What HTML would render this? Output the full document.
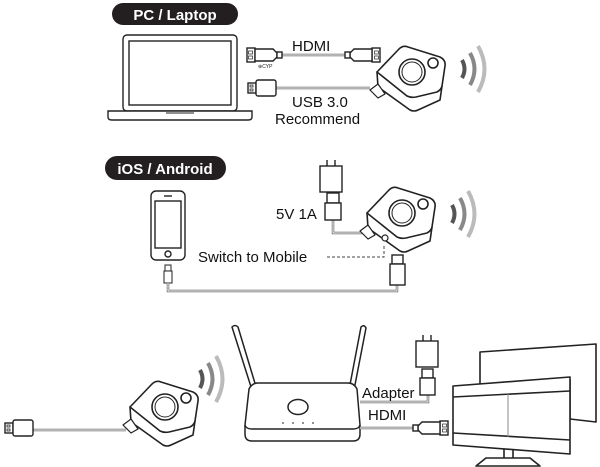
<!DOCTYPE html>
<html><head><meta charset="utf-8"><style>
html,body{margin:0;padding:0;background:#fff}
svg{display:block}
text{font-family:"Liberation Sans",sans-serif}
</style></head><body>
<svg width="600" height="467" viewBox="0 0 600 467" xmlns="http://www.w3.org/2000/svg">
<defs>
<g id="dongle" fill="#fff" stroke="#222" stroke-width="1.6" stroke-linejoin="round">
  <path d="M377,72 L378,87 L410,110 Q414,112 418,110 L440,100 L442,86 Z"/>
  <path d="M377,72 L399,49 Q403,45 408,47 L440,57 Q446,60 445,66 L442,86 Q441,90 437,92 L416,97 Q411,98 407,96 Z"/>
  <circle cx="412" cy="72" r="13"/>
  <circle cx="412" cy="72" r="10" stroke-width="1"/>
  <circle cx="433" cy="63" r="5"/>
  <path d="M370,90 L378,84 L385,94 L378,98 Z" stroke-width="1.2"/>
</g>
<g id="wifi" fill="none" stroke-linecap="butt">
  <path d="M462,60 Q467,69 462,78" stroke="#555" stroke-width="4"/>
  <path d="M470,53 Q479,69 470,85" stroke="#888" stroke-width="4"/>
  <path d="M478,46 Q491,69 478,92" stroke="#bbb" stroke-width="4"/>
</g>
<g id="usbplug" fill="#fff" stroke="#222" stroke-width="1.4">
  <rect x="0" y="3" width="8" height="10"/>
  <rect x="8" y="0" width="20" height="16" rx="2"/>
  <rect x="2" y="5" width="3" height="2" stroke-width="0.8"/>
  <rect x="2" y="9" width="3" height="2" stroke-width="0.8"/>
</g>
<g id="hdmiplug" fill="#fff" stroke="#222" stroke-width="1.4">
  <rect x="0" y="0" width="8" height="14"/>
  <path d="M8,1 L26,1 L30,5 L30,9 L26,13 L8,13 Z"/>
  <rect x="30" y="4" width="5" height="6"/>
  <rect x="1.5" y="3" width="4" height="3" stroke-width="0.7"/>
  <rect x="1.5" y="8" width="4" height="3" stroke-width="0.7"/>
</g>
<g id="adapter" fill="#fff" stroke="#222" stroke-width="1.4">
  <line x1="7" y1="-6" x2="7" y2="0"/><line x1="15" y1="-6" x2="15" y2="0"/>
  <rect x="0" y="0" width="22" height="26"/>
</g>
</defs>

<!-- Section 1 -->
<rect x="112" y="3" width="126" height="22" rx="11" fill="#231f20"/>
<text x="175" y="20" font-size="15" font-weight="bold" fill="#fff" text-anchor="middle">PC / Laptop</text>
<g fill="#fff" stroke="#222" stroke-width="1.4">
  <rect x="123" y="35" width="114" height="76" rx="4"/>
  <rect x="129" y="41" width="102" height="64"/>
  <path d="M108,111 L252,111 L252,117 Q252,120 248,120 L112,120 Q108,120 108,117 Z"/>
  <line x1="166" y1="113" x2="194" y2="113" stroke-width="1"/>
</g>
<g stroke="#666" stroke-width="2.5"><line x1="280" y1="55" x2="345" y2="55"/><line x1="272" y1="88" x2="370" y2="88"/></g>
<g stroke="#fff" stroke-width="1"><line x1="280" y1="55" x2="345" y2="55"/><line x1="272" y1="88" x2="370" y2="88"/></g>
<use href="#hdmiplug" transform="translate(247,48)"/>
<use href="#hdmiplug" transform="translate(380,48) scale(-1,1)"/>
<text x="258" y="68" font-size="5" fill="#222">⊕CYP</text>
<use href="#usbplug" transform="translate(248,80)"/>
<use href="#dongle"/>
<use href="#wifi"/>
<text x="292" y="51" font-size="15" fill="#111">HDMI</text>
<text x="292" y="107" font-size="15" fill="#111">USB 3.0</text>
<text x="275" y="124" font-size="15" fill="#111">Recommend</text>

<!-- Section 2 -->
<rect x="105" y="156" width="121" height="24" rx="12" fill="#231f20"/>
<text x="165" y="174" font-size="15" font-weight="bold" fill="#fff" text-anchor="middle">iOS / Android</text>
<g fill="#fff" stroke="#222" stroke-width="1.4">
  <rect x="151" y="191" width="34" height="69" rx="5"/>
  <rect x="155" y="201" width="26" height="47"/>
  <line x1="164" y1="196" x2="172" y2="196"/>
  <circle cx="168" cy="254" r="3"/>
  <rect x="165" y="265" width="6" height="6" stroke-width="1"/>
  <rect x="164" y="271" width="8" height="12" stroke-width="1"/>
</g>
<g fill="none" stroke="#666" stroke-width="2.5">
  <path d="M333,220 L333,233 L372,233"/>
  <path d="M168,283 L168,291 L397,291 L397,285"/>
</g>
<g fill="none" stroke="#fff" stroke-width="1">
  <path d="M333,220 L333,233 L372,233"/>
  <path d="M168,283 L168,291 L397,291 L397,285"/>
</g>
<use href="#adapter" transform="translate(320,166)"/>
<g fill="#fff" stroke="#222" stroke-width="1.4">
  <rect x="327" y="193" width="12" height="10"/>
  <rect x="325" y="203" width="16" height="17"/>
  <rect x="392" y="255" width="11" height="9"/>
  <rect x="390" y="264" width="15" height="21"/>
</g>
<use href="#dongle" transform="translate(-10,141)"/>
<circle cx="385" cy="238" r="3" fill="#fff" stroke="#222" stroke-width="1.2"/>
<use href="#wifi" transform="translate(-10,145)"/>
<text x="276" y="219" font-size="15" fill="#111">5V 1A</text>
<text x="198" y="262" font-size="15" fill="#111">Switch to Mobile</text>
<path d="M327,257 L384,257 L384,246" fill="none" stroke="#444" stroke-width="1" stroke-dasharray="3,2"/>

<!-- Section 3 -->
<g stroke="#666" stroke-width="2.5"><line x1="30" y1="430" x2="126" y2="430"/></g>
<g stroke="#fff" stroke-width="1"><line x1="30" y1="430" x2="126" y2="430"/></g>
<use href="#usbplug" transform="translate(5,420)"/>
<use href="#dongle" transform="translate(-247,335)"/>
<use href="#wifi" transform="translate(-262,310)"/>
<!-- router -->
<g fill="#fff" stroke="#222" stroke-width="1.5" stroke-linejoin="round">
  <path d="M232,327 Q235,324 238,327 L257,390 L252,390 Z"/>
  <path d="M361,327 Q364,324 366,328 L354,390 L349,390 Z"/>
  <path d="M258,383 L348,383 Q354,383 357,389 L360,425 L360,434 Q360,441 353,441 L252,441 Q245,441 245,434 L245,425 L249,389 Q252,383 258,383 Z"/>
  <path d="M245,425 Q246,429 252,429 L353,429 Q359,429 360,425" fill="none"/>
  <ellipse cx="298" cy="407" rx="10" ry="7.5"/>
</g>
<g fill="#444"><circle cx="283" cy="423" r="0.9"/><circle cx="293" cy="423" r="0.9"/><circle cx="303" cy="423" r="0.9"/><circle cx="313" cy="423" r="0.9"/></g>
<g fill="none" stroke="#666" stroke-width="2.5"><path d="M428,395 L428,402 L360,402"/><line x1="360" y1="428" x2="414" y2="428"/></g>
<g fill="none" stroke="#fff" stroke-width="1"><path d="M428,395 L428,402 L360,402"/><line x1="360" y1="428" x2="414" y2="428"/></g>
<use href="#adapter" transform="translate(416,341)"/>
<g fill="#fff" stroke="#222" stroke-width="1.4">
  <rect x="422" y="369" width="11" height="9"/>
  <rect x="420" y="378" width="15" height="17"/>
</g>
<use href="#hdmiplug" transform="translate(448,421) scale(-1,1)"/>
<text x="362" y="398" font-size="15" fill="#111">Adapter</text>
<text x="368" y="420" font-size="15" fill="#111">HDMI</text>
<!-- monitors -->
<g fill="#fff" stroke="#222" stroke-width="1.6" stroke-linejoin="round">
  <path d="M480,352 L596,344 L596,422 L570,419 L570,380 L480,386 Z"/>
  <path d="M453,386 L570,377 L570,454 L453,445 Z"/>
  <path d="M453,397 L570,391 M453,433 L570,440" fill="none"/>
  <line x1="508" y1="394" x2="508" y2="437" stroke="#888" stroke-width="1"/>
  <path d="M504,449 L504,458 M513,450 L513,458" fill="none"/>
  <path d="M486,458 L530,458 L540,466 L476,466 Z"/>
</g>
</svg>
</body></html>
